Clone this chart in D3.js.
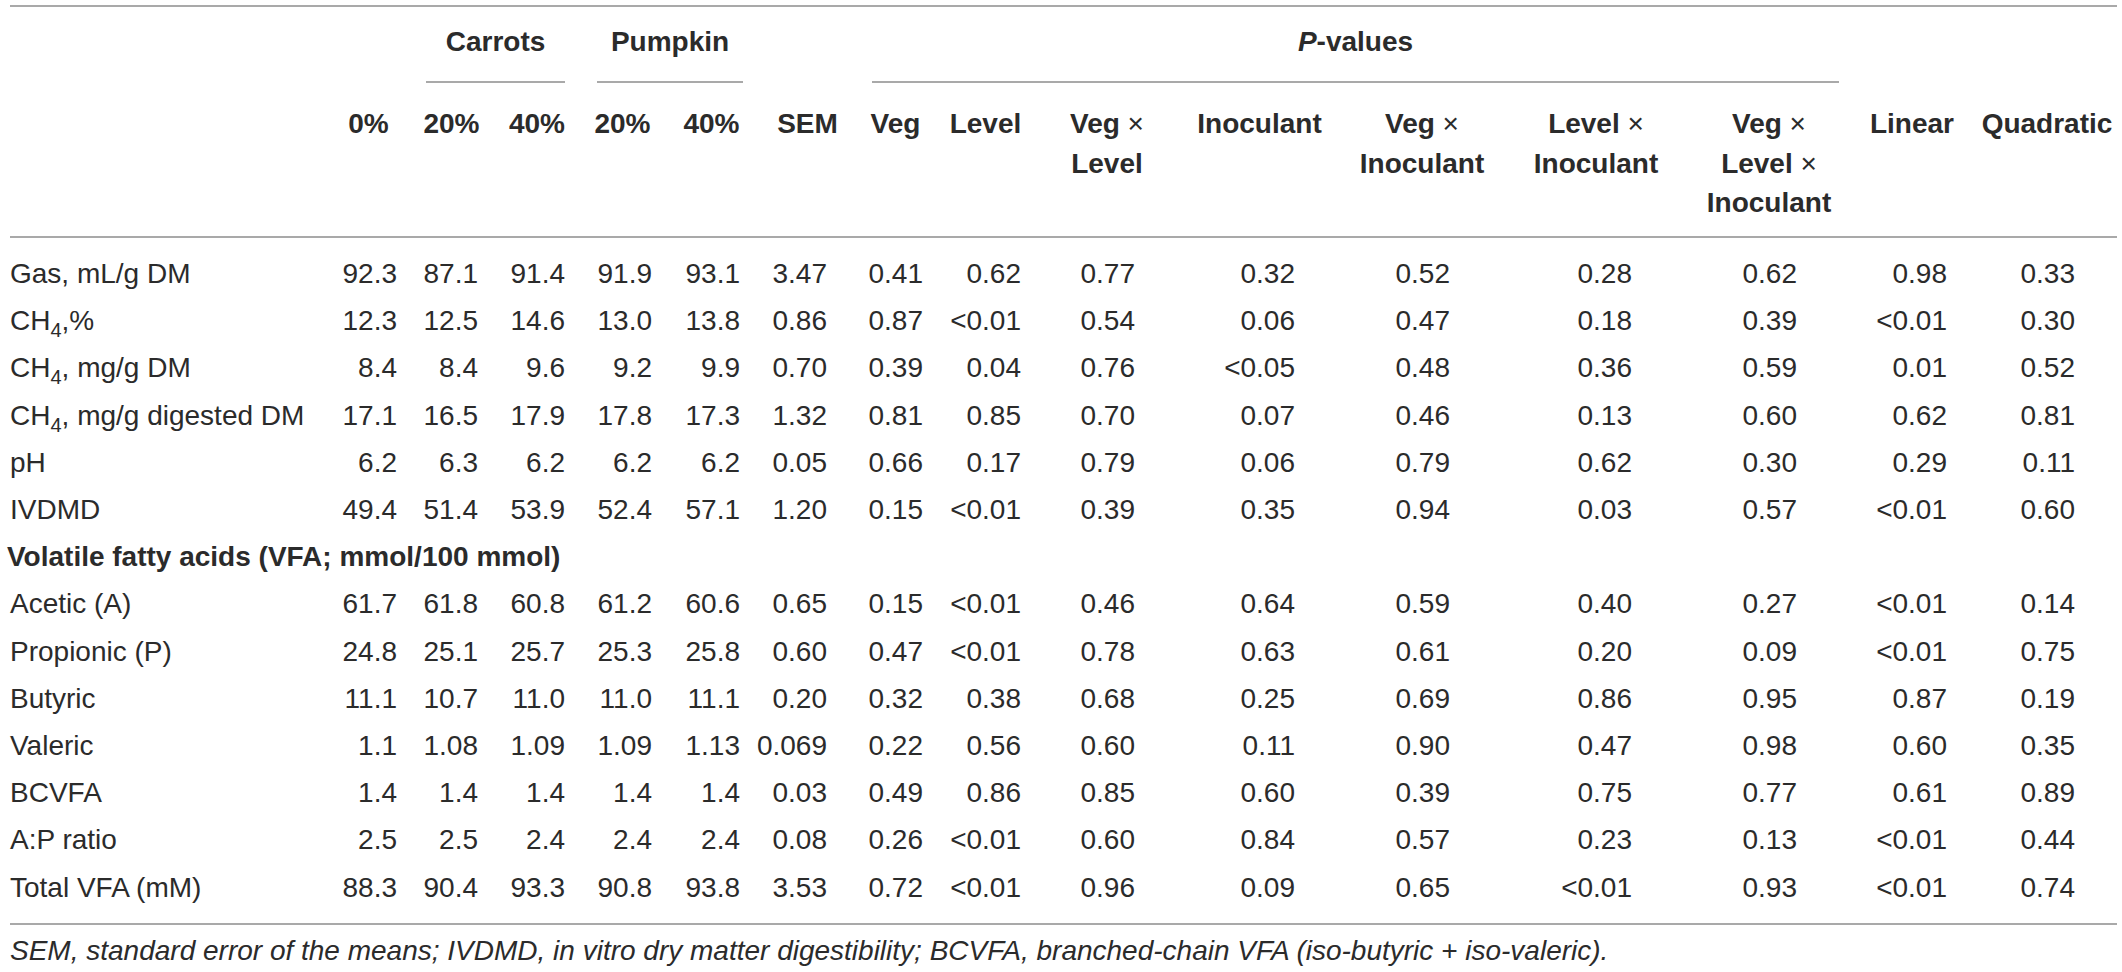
<!DOCTYPE html>
<html>
<head>
<meta charset="utf-8">
<script src="https://cdn.jsdelivr.net/npm/d3@7"></script>
<style>
  html, body { margin: 0; padding: 0; background: #fff; }
  svg { display: block; font-family: "Liberation Sans", Arial, Helvetica, sans-serif; }
</style>
</head>
<body>
<svg id="chart" width="2122" height="972"></svg>
<script>
// ---------------- DATA ----------------
const groupHeaders = [
  { text: "Carrots", cols: ["c20", "c40"] },
  { text: "Pumpkin", cols: ["p20", "p40"] },
  { text: "P-values", italicPrefix: "P", cols: ["veg", "vxlxi"] }
];
const columnKeys = ["c0", "c20", "c40", "p20", "p40", "sem", "veg", "level", "vxl", "inoc", "vxi", "lxi", "vxlxi", "linear", "quad"];
const columnHeaders = [
  ["0%"], ["20%"], ["40%"], ["20%"], ["40%"], ["SEM"], ["Veg"], ["Level"],
  ["Veg ×", "Level"], ["Inoculant"], ["Veg ×", "Inoculant"], ["Level ×", "Inoculant"],
  ["Veg ×", "Level ×", "Inoculant"], ["Linear"], ["Quadratic"]
];
const rowLabels = [
  "Gas, mL/g DM", "CH_4,%", "CH_4, mg/g DM", "CH_4, mg/g digested DM", "pH", "IVDMD",
  "#Volatile fatty acids (VFA; mmol/100 mmol)",
  "Acetic (A)", "Propionic (P)", "Butyric", "Valeric", "BCVFA", "A:P ratio", "Total VFA (mM)"
];
const control0   = ["92.3","12.3","8.4","17.1","6.2","49.4",null,"61.7","24.8","11.1","1.1","1.4","2.5","88.3"];
const carrots20  = ["87.1","12.5","8.4","16.5","6.3","51.4",null,"61.8","25.1","10.7","1.08","1.4","2.5","90.4"];
const carrots40  = ["91.4","14.6","9.6","17.9","6.2","53.9",null,"60.8","25.7","11.0","1.09","1.4","2.4","93.3"];
const pumpkin20  = ["91.9","13.0","9.2","17.8","6.2","52.4",null,"61.2","25.3","11.0","1.09","1.4","2.4","90.8"];
const pumpkin40  = ["93.1","13.8","9.9","17.3","6.2","57.1",null,"60.6","25.8","11.1","1.13","1.4","2.4","93.8"];
const semValues  = ["3.47","0.86","0.70","1.32","0.05","1.20",null,"0.65","0.60","0.20","0.069","0.03","0.08","3.53"];
const pVeg       = ["0.41","0.87","0.39","0.81","0.66","0.15",null,"0.15","0.47","0.32","0.22","0.49","0.26","0.72"];
const pLevel     = ["0.62","<0.01","0.04","0.85","0.17","<0.01",null,"<0.01","<0.01","0.38","0.56","0.86","<0.01","<0.01"];
const pVegLevel  = ["0.77","0.54","0.76","0.70","0.79","0.39",null,"0.46","0.78","0.68","0.60","0.85","0.60","0.96"];
const pInoc      = ["0.32","0.06","<0.05","0.07","0.06","0.35",null,"0.64","0.63","0.25","0.11","0.60","0.84","0.09"];
const pVegInoc   = ["0.52","0.47","0.48","0.46","0.79","0.94",null,"0.59","0.61","0.69","0.90","0.39","0.57","0.65"];
const pLevelInoc = ["0.28","0.18","0.36","0.13","0.62","0.03",null,"0.40","0.20","0.86","0.47","0.75","0.23","<0.01"];
const pVegLevelInoc = ["0.62","0.39","0.59","0.60","0.30","0.57",null,"0.27","0.09","0.95","0.98","0.77","0.13","0.93"];
const pLinear    = ["0.98","<0.01","0.01","0.62","0.29","<0.01",null,"<0.01","<0.01","0.87","0.60","0.61","<0.01","<0.01"];
const pQuadratic = ["0.33","0.30","0.52","0.81","0.11","0.60",null,"0.14","0.75","0.19","0.35","0.89","0.44","0.74"];
const footnote = "SEM, standard error of the means; IVDMD, in vitro dry matter digestibility; BCVFA, branched-chain VFA (iso-butyric + iso-valeric).";

const columnValues = [control0, carrots20, carrots40, pumpkin20, pumpkin40, semValues, pVeg, pLevel,
  pVegLevel, pInoc, pVegInoc, pLevelInoc, pVegLevelInoc, pLinear, pQuadratic];

// ---------------- LAYOUT ----------------
const W = 2122, H = 972;
const FS = 28;
const textColor = "#2b2b2b";
const ruleColor = "#8c8c8c";
const ruleLeft = 10, ruleRight = 2117;

const dataRight = d3.scaleOrdinal().domain(columnKeys)
  .range([397, 478, 565, 652, 740, 827, 923, 1021, 1135, 1295, 1450, 1632, 1797, 1947, 2075]);
const headCenter = d3.scaleOrdinal().domain(columnKeys)
  .range([368.5, 451.5, 537, 622.5, 711.5, 807.5, 895.5, 985.5, 1107, 1259.5, 1422, 1596, 1769, 1912, 2047]);
const groupSpan = {
  "Carrots": [426, 565],
  "Pumpkin": [597, 743],
  "P-values": [872, 1839]
};

const yRow = d3.scaleLinear().domain([0, 13]).range([283, 896.6]);
const yHeadLine = d3.scaleLinear().domain([0, 2]).range([133, 212]);

const svg = d3.select("#chart");
svg.append("rect").attr("width", W).attr("height", H).attr("fill", "#fff");

// rules
const rules = [
  { y: 6, x1: ruleLeft, x2: ruleRight },
  { y: 237, x1: ruleLeft, x2: ruleRight },
  { y: 924, x1: ruleLeft, x2: ruleRight }
];
groupHeaders.forEach(g => {
  const s = groupSpan[g.text];
  rules.push({ y: 82, x1: s[0], x2: s[1] });
});
svg.append("g").selectAll("line").data(rules).join("line")
  .attr("x1", d => d.x1).attr("x2", d => d.x2)
  .attr("y1", d => d.y).attr("y2", d => d.y)
  .attr("stroke", ruleColor).attr("stroke-width", 1.6);

// group headers
const gh = svg.append("g").attr("font-weight", "bold").attr("font-size", FS).attr("fill", textColor);
groupHeaders.forEach(g => {
  const s = groupSpan[g.text];
  const t = gh.append("text").attr("x", (s[0] + s[1]) / 2).attr("y", 51).attr("text-anchor", "middle");
  if (g.italicPrefix) {
    t.append("tspan").attr("font-style", "italic").text(g.italicPrefix);
    t.append("tspan").text(g.text.slice(g.italicPrefix.length));
  } else {
    t.text(g.text);
  }
});

// column headers
const ch = svg.append("g").attr("font-size", FS).attr("fill", textColor);
columnKeys.forEach((k, i) => {
  columnHeaders[i].forEach((line, li) => {
    const t = ch.append("text").attr("x", headCenter(k)).attr("y", yHeadLine(li)).attr("text-anchor", "middle");
    const m = line.match(/^(.*?)( ×)$/);
    if (m) {
      t.append("tspan").attr("font-weight", "bold").text(m[1]);
      t.append("tspan").attr("font-weight", "normal").text(m[2]);
    } else {
      t.attr("font-weight", "bold").text(line);
    }
  });
});

// row labels
const rl = svg.append("g").attr("font-size", FS).attr("fill", textColor);
rowLabels.forEach((lab, i) => {
  const t = rl.append("text").attr("y", yRow(i));
  if (lab.startsWith("#")) {
    t.attr("x", 7).attr("font-weight", "bold").text(lab.slice(1));
    return;
  }
  t.attr("x", 10);
  const parts = lab.split(/_(\d)/);
  let pendingDy = 0;
  parts.forEach((p, j) => {
    if (j % 2 === 1) {
      t.append("tspan").attr("font-size", 20).attr("dy", 7).text(p);
      pendingDy = -7;
    } else if (p) {
      const ts = t.append("tspan").text(p);
      if (pendingDy) { ts.attr("dy", pendingDy); pendingDy = 0; }
    }
  });
});

// data cells
const cells = svg.append("g").attr("font-size", FS).attr("fill", textColor).attr("text-anchor", "end");
columnKeys.forEach((k, ci) => {
  cells.append("g").selectAll("text")
    .data(columnValues[ci].map((v, ri) => ({ v, ri })).filter(d => d.v !== null))
    .join("text")
    .attr("x", dataRight(k))
    .attr("y", d => yRow(d.ri))
    .text(d => d.v);
});

// footnote
svg.append("text").attr("x", 10).attr("y", 960)
  .attr("font-size", FS).attr("font-style", "italic").attr("fill", textColor)
  .text(footnote);
</script>
</body>
</html>
